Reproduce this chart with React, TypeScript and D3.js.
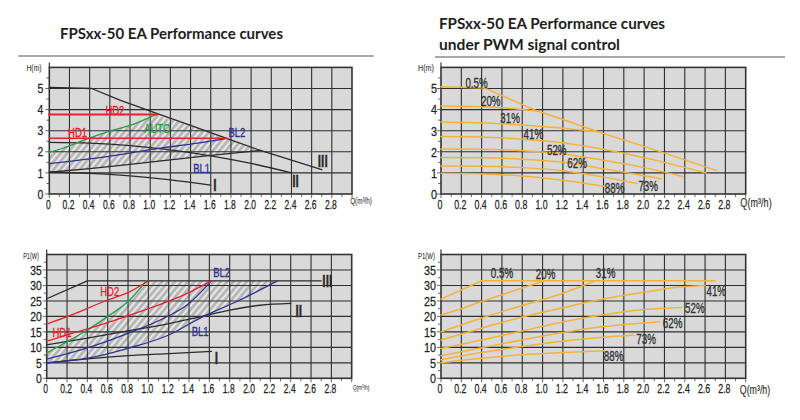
import React from 'react';
import * as d3 from 'd3';

type Pt = [number, number];

// ---------- text ----------
const titleLeft = 'FPSxx-50 EA Performance curves';
const titleRight1 = 'FPSxx-50 EA Performance curves';
const titleRight2 = 'under PWM signal control';

// ---------- axes ----------
const qTicks = [0, 0.2, 0.4, 0.6, 0.8, 1.0, 1.2, 1.4, 1.6, 1.8, 2.0, 2.2, 2.4, 2.6, 2.8];
const qTickLabels = ['0', '0.2', '0.4', '0.6', '0.8', '1.0', '1.2', '1.4', '1.6', '1.8', '2.0', '2.2', '2.4', '2.6', '2.8'];
const qGrid = [0.2, 0.4, 0.6, 0.8, 1.0, 1.2, 1.4, 1.6, 1.8, 2.0, 2.2, 2.4, 2.6, 2.8];
const qMinor = d3.range(0, 31).map((i) => i / 10);
const hTicks = [0, 1, 2, 3, 4, 5];
const hGrid = [1, 2, 3, 4, 5];
const hMinor = [0.5, 1.5, 2.5, 3.5, 4.5, 5.5];
const pTicks = [0, 5, 10, 15, 20, 25, 30, 35];
const pGrid = [5, 10, 15, 20, 25, 30, 35];
const pMinor = [2.5, 7.5, 12.5, 17.5, 22.5, 27.5, 32.5, 37.5];

// ---------- H(Q) curves, operating modes ----------
const hIII: Pt[] = [[0, 5.05], [0.42, 5.0], [0.7, 4.45], [1.05, 3.85], [1.4, 3.25], [1.75, 2.65], [2.1, 2.05], [2.4, 1.6], [2.7, 1.15]];
const hII: Pt[] = [[0, 2.45], [0.4, 2.41], [0.8, 2.29], [1.2, 2.09], [1.6, 1.81], [2.0, 1.45], [2.4, 1.0]];
const hI: Pt[] = [[0, 1.03], [0.4, 0.98], [0.8, 0.86], [1.2, 0.67], [1.6, 0.42]];
const hBL1: Pt[] = [[0, 1.03], [0.4, 1.2], [0.8, 1.4], [1.2, 1.62], [1.6, 1.83], [2.1, 2.07]];
const hBL2: Pt[] = [[0, 1.44], [0.57, 1.77], [1.1, 2.17], [1.45, 2.4], [1.76, 2.64]];
const hAUTO: Pt[] = [[0, 1.97], [0.14, 2.18], [0.34, 2.55], [0.6, 2.98], [0.83, 3.3], [1.05, 3.75]];
const hHD2: Pt[] = [[0, 3.77], [1.07, 3.77]];
const hHD1: Pt[] = [[0, 2.64], [1.76, 2.64]];

// ---------- P1(Q) curves, operating modes ----------
const pIII: Pt[] = [[0, 25.7], [0.4, 31.5], [2.7, 31.5]];
const pII: Pt[] = [[0, 10.8], [0.4, 13], [0.8, 15.3], [1.2, 17.7], [1.5, 19.8], [1.8, 22], [2.1, 23.6], [2.4, 24.2]];
const pI: Pt[] = [[0, 5], [0.4, 6.3], [0.8, 7.3], [1.2, 8], [1.62, 8.7]];
const pHD2: Pt[] = [[0, 17.5], [0.2, 19.9], [0.6, 25.3], [0.82, 28], [1.0, 31.5]];
const pHD1: Pt[] = [[0, 12], [0.2, 14], [0.6, 18], [1.0, 22.5], [1.3, 26.2], [1.62, 31.5]];
const pAUTO: Pt[] = [[0, 8.2], [0.2, 11.8], [0.4, 15.6], [0.6, 20], [0.8, 24.8], [0.98, 31.5]];
const pBL2: Pt[] = [[0, 6.2], [0.4, 9.8], [0.8, 14.5], [1.2, 20.2], [1.4, 24.2], [1.62, 31.5]];
const pBL1: Pt[] = [[0, 5], [0.4, 6.5], [0.8, 9.7], [1.2, 14], [1.5, 19.3], [1.9, 25.3], [2.27, 31.5]];

// ---------- PWM H(Q) ----------
const w05H: Pt[] = [[0, 5.08], [0.43, 5.02], [0.7, 4.45], [0.95, 3.93], [1.25, 3.45], [1.54, 2.96], [2.15, 2.02], [2.71, 1.12]];
const w20H: Pt[] = [[0, 4.17], [0.4, 4.13], [0.7, 4.05], [0.95, 3.93]];
const w31H: Pt[] = [[0, 3.41], [0.5, 3.35], [1.0, 3.2], [1.54, 2.96]];
const w41H: Pt[] = [[0, 2.72], [0.4, 2.7], [0.8, 2.6], [1.2, 2.43], [1.6, 2.12], [2.0, 1.72], [2.3, 1.38], [2.61, 1.0]];
const w52H: Pt[] = [[0, 2.13], [0.4, 2.12], [0.8, 2.05], [1.2, 1.9], [1.6, 1.6], [2.0, 1.25], [2.38, 0.83]];
const w62H: Pt[] = [[0, 1.73], [0.4, 1.72], [0.8, 1.65], [1.2, 1.5], [1.6, 1.2], [1.9, 0.95], [2.17, 0.72]];
const w73H: Pt[] = [[0, 1.33], [0.4, 1.32], [0.8, 1.25], [1.2, 1.1], [1.6, 0.8], [1.93, 0.5]];
const w88H: Pt[] = [[0, 0.98], [0.4, 0.95], [0.8, 0.85], [1.2, 0.65], [1.62, 0.35]];

// ---------- PWM P1(Q) ----------
const w05P: Pt[] = [[0, 25.6], [0.4, 31.5], [2.7, 31.5]];
const w20P: Pt[] = [[0, 20.5], [0.2, 22.5], [0.4, 24.8], [0.6, 27], [0.8, 29.2], [1.02, 31.5]];
const w31P: Pt[] = [[0, 15], [0.4, 19.5], [0.8, 23.5], [1.2, 27.5], [1.52, 31.5]];
const w41P: Pt[] = [[0, 12.4], [0.4, 16.2], [0.8, 19.8], [1.2, 22.8], [1.6, 25.6], [2.0, 27.8], [2.3, 29.3], [2.6, 30.0]];
const w52P: Pt[] = [[0, 9.6], [0.4, 12.4], [0.8, 15.3], [1.2, 18.2], [1.6, 20.5], [2.0, 22.2], [2.37, 22.9]];
const w62P: Pt[] = [[0, 7.3], [0.4, 9.9], [0.8, 12.4], [1.2, 14.8], [1.6, 16.7], [2.15, 18.3]];
const w73P: Pt[] = [[0, 6], [0.4, 8.3], [0.8, 10.3], [1.2, 12], [1.6, 13.3], [1.9, 14]];
const w88P: Pt[] = [[0, 5], [0.4, 6.5], [0.8, 7.6], [1.2, 8.3], [1.6, 8.9]];

const FONT = "'Liberation Sans', Arial, sans-serif";
const RED = '#e8212b';
const GREEN = '#23a048';
const BLUE = '#2d3192';
const DARK = '#2a2a2a';
const ORANGE = '#f5b238';

function T({ x, y, size, sx = 0.7, anchor = 'middle', fill = '#222', weight = 400, bold = 0.35, children }: any) {
  return (
    <g transform={`translate(${x},${y + size * 0.36}) scale(${sx},1)`}>
      <text x={0} y={0} fontSize={size} textAnchor={anchor} fill={fill} stroke={fill} strokeWidth={bold} fontWeight={weight} fontFamily={FONT}>
        {children}
      </text>
    </g>
  );
}

function Background({ xs, ys }: any) {
  const [x0, x1] = xs.range();
  const [y0, yT] = ys.range();
  return <rect x={x0} y={yT} width={x1 - x0} height={y0 - yT} fill="#d9d9d9" />;
}

function Grid({ xs, ys, yGrid, yTicks, yMinor, tickSize, ySx, yLabelGap }: any) {
  const [x0, x1] = xs.range();
  const [y0, yT] = ys.range();
  return (
    <g>
      {qGrid.map((q) => (
        <line key={'v' + q} x1={xs(q)} x2={xs(q)} y1={yT} y2={y0} stroke="#2e2e2e" strokeWidth={1.1} />
      ))}
      {yGrid.map((v: number) => (
        <line key={'h' + v} x1={x0} x2={x1} y1={ys(v)} y2={ys(v)} stroke="#2e2e2e" strokeWidth={1.1} />
      ))}
      <rect x={x0} y={yT} width={x1 - x0} height={y0 - yT} fill="none" stroke="#333" strokeWidth={1.6} />
      <line x1={x0} x2={x0} y1={yT} y2={yT - 5} stroke="#3a3a3a" strokeWidth={1.2} />
      {qMinor.map((q) => (
        <line key={'mq' + q} x1={xs(q)} x2={xs(q)} y1={y0} y2={y0 + (Math.round(q * 10) % 2 === 0 ? 4 : 3)} stroke="#444" strokeWidth={0.8} />
      ))}
      {yMinor.map((v: number) => (
        <line key={'mh' + v} x1={x0 - 3} x2={x0} y1={ys(v)} y2={ys(v)} stroke="#444" strokeWidth={0.8} />
      ))}
      {yTicks.map((v: number) => (
        <line key={'th' + v} x1={x0 - 4} x2={x0} y1={ys(v)} y2={ys(v)} stroke="#444" strokeWidth={0.8} />
      ))}
      {qTicks.map((q, i) => (
        <T key={'lq' + q} x={xs(q) - 1} y={y0 + 10} size={tickSize} sx={0.68} bold={0.25}>
          {qTickLabels[i]}
        </T>
      ))}
      {yTicks.map((v: number) => (
        <T key={'ly' + v} x={x0 - yLabelGap} y={ys(v)} size={tickSize + 0.5} sx={ySx} anchor="end" bold={0.25}>
          {String(v)}
        </T>
      ))}
    </g>
  );
}

function Curve({ data, xs, ys, color, width = 1.3, curve = d3.curveMonotoneX }: any) {
  const gen = d3
    .line<Pt>()
    .x((d) => xs(d[0]))
    .y((d) => ys(d[1]))
    .curve(curve);
  return <path d={gen(data) || ''} fill="none" stroke={color} strokeWidth={width} strokeLinejoin="round" strokeLinecap="round" />;
}

function Hatch({ pts, xs, ys }: any) {
  const gen = d3
    .line<Pt>()
    .x((d) => xs(d[0]))
    .y((d) => ys(d[1]));
  return <path d={(gen(pts) || '') + 'Z'} fill="url(#hatch)" />;
}

export default function App() {
  const ulX = d3.scaleLinear().domain([0, 3]).range([49.3, 352]);
  const ulY = d3.scaleLinear().domain([0, 6]).range([194, 67.4]);
  const urX = d3.scaleLinear().domain([0, 3]).range([441, 745.7]);
  const urY = d3.scaleLinear().domain([0, 6]).range([194, 67.4]);
  const llX = d3.scaleLinear().domain([0, 3]).range([46.7, 351.7]);
  const llY = d3.scaleLinear().domain([0, 40]).range([378.3, 254.5]);
  const lrX = d3.scaleLinear().domain([0, 3]).range([441, 745.7]);
  const lrY = d3.scaleLinear().domain([0, 40]).range([378.3, 254.5]);

  const ulHatchPts: Pt[] = [
    ...hAUTO,
    ...hIII.filter((p) => p[0] > 1.05 && p[0] <= 2.1),
    ...hBL1.slice().reverse(),
  ];
  const llHatchPts: Pt[] = [
    ...pAUTO,
    [2.27, 31.5],
    ...pBL1.slice().reverse(),
  ];

  const lin = d3.curveLinear;
  const TF = "Lato, 'Open Sans', sans-serif";

  return (
    <svg width={800} height={420} style={{ position: 'absolute', left: 0, top: 0, background: '#fff' }}>
      <defs>
        <pattern id="hatch" patternUnits="userSpaceOnUse" width={5} height={5} patternTransform="rotate(40)">
          <rect width={5} height={5} fill="#b4b4b4" />
          <line x1={2.5} y1={0} x2={2.5} y2={5} stroke="#f2f2f2" strokeWidth={1.9} />
        </pattern>
      </defs>

      {/* titles */}
      <text x={60} y={39} fontSize={14.5} fontWeight={700} fontFamily={TF} fill="#1e1e1e" textLength={223} lengthAdjust="spacingAndGlyphs">
        {titleLeft}
      </text>
      <line x1={18} x2={374} y1={56} y2={56} stroke="#555" strokeWidth={1.2} />
      <text x={439} y={28.5} fontSize={14.5} fontWeight={700} fontFamily={TF} fill="#1e1e1e" textLength={226} lengthAdjust="spacingAndGlyphs">
        {titleRight1}
      </text>
      <text x={439} y={50} fontSize={14.5} fontWeight={700} fontFamily={TF} fill="#1e1e1e" textLength={181} lengthAdjust="spacingAndGlyphs">
        {titleRight2}
      </text>
      <line x1={435} x2={785} y1={57} y2={57} stroke="#555" strokeWidth={1.2} />

      {/* ---------- upper left ---------- */}
      <Background xs={ulX} ys={ulY} />
      <Hatch pts={ulHatchPts} xs={ulX} ys={ulY} />
      <Grid xs={ulX} ys={ulY} yGrid={hGrid} yTicks={hTicks} yMinor={hMinor} tickSize={12.5} ySx={0.8} yLabelGap={6} />
      <Curve data={hIII} xs={ulX} ys={ulY} color={DARK} curve={lin} />
      <Curve data={hII} xs={ulX} ys={ulY} color={DARK} />
      <Curve data={hI} xs={ulX} ys={ulY} color={DARK} />
      <Curve data={hBL1} xs={ulX} ys={ulY} color={DARK} />
      <Curve data={hBL2} xs={ulX} ys={ulY} color={BLUE} />
      <Curve data={hAUTO} xs={ulX} ys={ulY} color={GREEN} />
      <Curve data={hHD1} xs={ulX} ys={ulY} color={RED} width={1.5} curve={lin} />
      <Curve data={hHD2} xs={ulX} ys={ulY} color={RED} width={2} curve={lin} />
      <T x={ulX(0.65)} y={ulY(3.98)} size={13.5} fill={RED}>HD2</T>
      <T x={ulX(0.28)} y={ulY(2.95)} size={13.5} fill={RED}>HD1</T>
      <T x={ulX(1.07)} y={ulY(3.13)} size={13.5} fill={GREEN}>AUTO</T>
      <T x={ulX(1.86)} y={ulY(2.95)} size={13.5} fill={BLUE}>BL2</T>
      <T x={ulX(1.51)} y={ulY(1.23)} size={13.5} fill={BLUE}>BL1</T>
      <T x={ulX(1.64)} y={ulY(0.43)} size={17} weight={700} fill={DARK}>I</T>
      <T x={ulX(2.44)} y={ulY(0.64)} size={17} weight={700} fill={DARK}>II</T>
      <T x={ulX(2.71)} y={ulY(1.59)} size={17} weight={700} fill={DARK}>III</T>
      <T x={34} y={67.5} size={8.5} sx={0.8} fill="#333" bold={0.1}>H(m)</T>
      <T x={361} y={200.5} size={9} sx={0.7} fill="#333" bold={0.1}>Q(m³/h)</T>

      {/* ---------- upper right ---------- */}
      <Background xs={urX} ys={urY} />
      <Grid xs={urX} ys={urY} yGrid={hGrid} yTicks={hTicks} yMinor={hMinor} tickSize={13} ySx={0.8} yLabelGap={4} />
      {[w88H, w73H, w62H, w52H, w41H, w31H, w20H].map((d, i) => (
        <Curve key={i} data={d} xs={urX} ys={urY} color={ORANGE} width={1.5} />
      ))}
      <Curve data={w05H} xs={urX} ys={urY} color={ORANGE} width={1.5} curve={lin} />
      <T x={urX(0.35)} y={urY(5.26)} size={14} fill="#333">0.5%</T>
      <T x={urX(0.49)} y={urY(4.41)} size={14} fill="#333">20%</T>
      <T x={urX(0.68)} y={urY(3.6)} size={14} fill="#333">31%</T>
      <T x={urX(0.91)} y={urY(2.84)} size={14} fill="#333">41%</T>
      <T x={urX(1.14)} y={urY(2.11)} size={14} fill="#333">52%</T>
      <T x={urX(1.34)} y={urY(1.45)} size={14} fill="#333">62%</T>
      <T x={urX(1.71)} y={urY(0.28)} size={14} fill="#333">88%</T>
      <T x={urX(2.04)} y={urY(0.38)} size={14} fill="#333">73%</T>
      <T x={426} y={68} size={9} sx={0.8} fill="#333" bold={0.1}>H(m)</T>
      <T x={756} y={202.5} size={13} sx={0.7} fill="#333" bold={0.2}>Q(m³/h)</T>

      {/* ---------- lower left ---------- */}
      <Background xs={llX} ys={llY} />
      <Hatch pts={llHatchPts} xs={llX} ys={llY} />
      <Grid xs={llX} ys={llY} yGrid={pGrid} yTicks={pTicks} yMinor={pMinor} tickSize={12.5} ySx={0.8} yLabelGap={5} />
      <Curve data={pIII} xs={llX} ys={llY} color={DARK} curve={lin} />
      <Curve data={pII} xs={llX} ys={llY} color={DARK} />
      <Curve data={pI} xs={llX} ys={llY} color={DARK} />
      <Curve data={pBL1} xs={llX} ys={llY} color={BLUE} />
      <Curve data={pBL2} xs={llX} ys={llY} color={BLUE} />
      <Curve data={pAUTO} xs={llX} ys={llY} color={GREEN} />
      <Curve data={pHD1} xs={llX} ys={llY} color={RED} />
      <Curve data={pHD2} xs={llX} ys={llY} color={RED} />
      <T x={llX(0.62)} y={llY(28.2)} size={13.5} fill={RED}>HD2</T>
      <T x={llX(0.15)} y={llY(15.0)} size={13.5} fill={RED}>HD1</T>
      <T x={llX(1.72)} y={llY(34.2)} size={13.5} fill={BLUE}>BL2</T>
      <T x={llX(1.51)} y={llY(15.3)} size={13.5} fill={BLUE}>BL1</T>
      <T x={llX(2.76)} y={llY(31.6)} size={17} weight={700} fill={DARK}>III</T>
      <T x={llX(2.48)} y={llY(21.8)} size={17} weight={700} fill={DARK}>II</T>
      <T x={llX(1.67)} y={llY(6.7)} size={17} weight={700} fill={DARK}>I</T>
      <T x={31} y={255.5} size={8.5} sx={0.65} fill="#333" bold={0.1}>P1(W)</T>
      <T x={361} y={387.5} size={8} sx={0.6} fill="#333" bold={0.1}>Q(m³/h)</T>

      {/* ---------- lower right ---------- */}
      <Background xs={lrX} ys={lrY} />
      <Grid xs={lrX} ys={lrY} yGrid={pGrid} yTicks={pTicks} yMinor={pMinor} tickSize={13} ySx={0.8} yLabelGap={5} />
      {[w88P, w73P, w62P, w52P, w41P, w31P, w20P].map((d, i) => (
        <Curve key={i} data={d} xs={lrX} ys={lrY} color={ORANGE} width={1.5} />
      ))}
      <Curve data={w05P} xs={lrX} ys={lrY} color={ORANGE} width={1.5} curve={lin} />
      <T x={lrX(0.6)} y={lrY(33.9)} size={14} fill="#333">0.5%</T>
      <T x={lrX(1.03)} y={lrY(33.7)} size={14} fill="#333">20%</T>
      <T x={lrX(1.62)} y={lrY(33.9)} size={14} fill="#333">31%</T>
      <T x={lrX(2.71)} y={lrY(28.1)} size={14} fill="#333">41%</T>
      <T x={lrX(2.5)} y={lrY(22.7)} size={14} fill="#333">52%</T>
      <T x={lrX(2.28)} y={lrY(17.9)} size={14} fill="#333">62%</T>
      <T x={lrX(2.02)} y={lrY(12.7)} size={14} fill="#333">73%</T>
      <T x={lrX(1.7)} y={lrY(7.2)} size={14} fill="#333">88%</T>
      <T x={426.5} y={256} size={9} sx={0.67} fill="#333" bold={0.1}>P1(W)</T>
      <T x={755} y={389.5} size={13} sx={0.68} fill="#333" bold={0.2}>Q(m³/h)</T>
    </svg>
  );
}
